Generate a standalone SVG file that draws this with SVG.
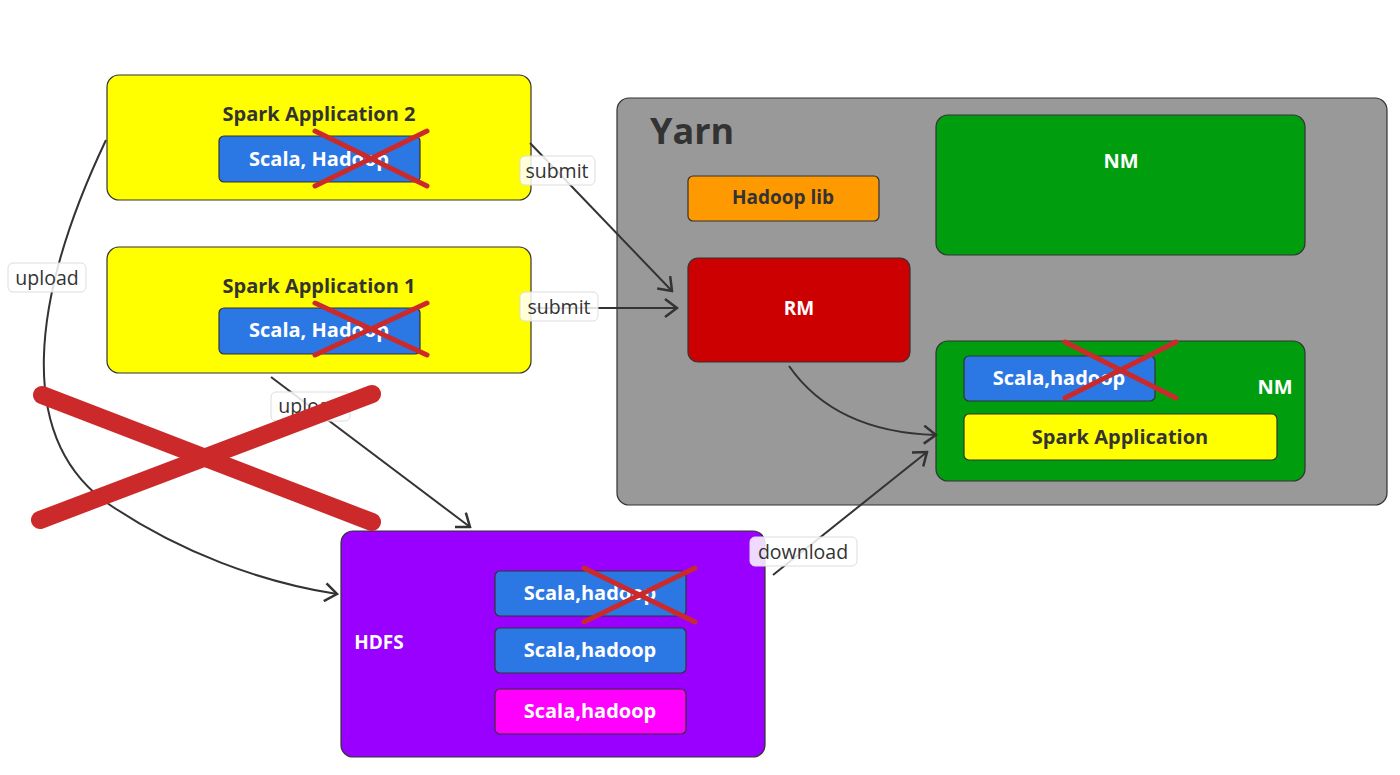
<svg xmlns="http://www.w3.org/2000/svg" width="1400" height="775" viewBox="0 0 1400 775">
<defs>
<marker id="arr" viewBox="-14 -10 16 20" markerWidth="16" markerHeight="20" refX="0" refY="0" orient="auto" markerUnits="userSpaceOnUse">
<path d="M-12,-9 L0,0 L-12,9" fill="none" stroke="#333" stroke-width="2.5"/>
</marker>
<style>
.box{stroke:#333;stroke-width:1.2}
.t{font-family:"Open Sans","Noto Sans","Liberation Sans",sans-serif;font-weight:bold;text-anchor:middle;dominant-baseline:central}
.dark{fill:#333}
.white{fill:#fff}
.x{stroke:#cc2a2a;stroke-width:5;stroke-linecap:round}
.conn{fill:none;stroke:#333;stroke-width:2}
.lblbox{fill:#fff;fill-opacity:0.85;stroke:#ddd;stroke-width:1}
.lbl{font-family:"Open Sans","Noto Sans","Liberation Sans",sans-serif;font-size:19.5px;fill:#333;text-anchor:middle;dominant-baseline:central}
</style>
</defs>
<rect width="1400" height="775" fill="#fff"/>

<g id="yarn">
<rect x="617" y="98" width="770" height="407" rx="12" fill="#999999" class="box"/>
<text x="650" y="130" class="t dark" style="font-size:36px;text-anchor:start">Yarn</text>
</g>

<g id="spark-app-2">
<rect x="107" y="75" width="424" height="125" rx="12" fill="#ffff00" class="box"/>
<text x="319" y="113" class="t dark" font-size="20">Spark Application 2</text>
<rect x="219" y="136" width="201" height="46" rx="5" fill="#2b78e4" class="box"/>
<text x="319" y="158" class="t white" font-size="20">Scala, Hadoop</text>
<line x1="315" y1="131" x2="427" y2="186" class="x"/>
<line x1="315" y1="186" x2="427" y2="131" class="x"/>
</g>

<g id="spark-app-1">
<rect x="107" y="247" width="424" height="126" rx="12" fill="#ffff00" class="box"/>
<text x="319" y="285" class="t dark" font-size="20">Spark Application 1</text>
<rect x="219" y="308" width="201" height="46" rx="5" fill="#2b78e4" class="box"/>
<text x="319" y="329" class="t white" font-size="20">Scala, Hadoop</text>
<line x1="315" y1="303" x2="427" y2="355" class="x"/>
<line x1="315" y1="355" x2="427" y2="303" class="x"/>
</g>

<g id="hadoop-lib">
<rect x="688" y="176" width="191" height="45" rx="5" fill="#ff9900" class="box"/>
<text x="783" y="197" class="t dark" font-size="19">Hadoop lib</text>
</g>

<g id="rm">
<rect x="688" y="258" width="222" height="104" rx="10" fill="#cc0000" class="box"/>
<text x="799" y="308" class="t white" font-size="19">RM</text>
</g>

<g id="nm-1">
<rect x="936" y="115" width="369" height="140" rx="12" fill="#009e0f" class="box"/>
<text x="1121" y="160" class="t white" font-size="20">NM</text>
</g>

<g id="nm-2">
<rect x="936" y="341" width="369" height="140" rx="12" fill="#009e0f" class="box"/>
<text x="1275" y="386" class="t white" font-size="20">NM</text>
<rect x="964" y="356" width="191" height="45" rx="5" fill="#2b78e4" class="box"/>
<text x="1059" y="377" class="t white" font-size="20">Scala,hadoop</text>
<rect x="964" y="414" width="313" height="46" rx="5" fill="#ffff00" class="box"/>
<text x="1120" y="436" class="t dark" font-size="20">Spark Application</text>
<line x1="1065" y1="342" x2="1176" y2="398" class="x"/>
<line x1="1065" y1="398" x2="1176" y2="342" class="x"/>
</g>

<g id="hdfs">
<rect x="341" y="531" width="424" height="226" rx="12" fill="#9900ff" class="box"/>
<text x="379" y="642" class="t white" font-size="19">HDFS</text>
<rect x="495" y="571" width="191" height="45" rx="5" fill="#2b78e4" class="box"/>
<text x="590" y="592" class="t white" font-size="20">Scala,hadoop</text>
<rect x="495" y="628" width="191" height="45" rx="5" fill="#2b78e4" class="box"/>
<text x="590" y="649" class="t white" font-size="20">Scala,hadoop</text>
<rect x="495" y="689" width="191" height="45" rx="5" fill="#ff00ff" class="box"/>
<text x="590" y="710" class="t white" font-size="20">Scala,hadoop</text>
<line x1="584" y1="568" x2="695" y2="622" class="x"/>
<line x1="584" y1="622" x2="695" y2="568" class="x"/>
</g>

<g id="connectors">
<path d="M530,143 L672,291" class="conn" marker-end="url(#arr)"/>
<path d="M531,308 L677,308" class="conn" marker-end="url(#arr)"/>
<path d="M106,140 C30,300 15,440 110,505 C180,552 260,582 337,594" class="conn" marker-end="url(#arr)"/>
<path d="M271,377 L470,527" class="conn" marker-end="url(#arr)"/>
<path d="M789,366 Q835,432 936,435" class="conn" marker-end="url(#arr)"/>
<path d="M773,575 L927,452" class="conn" marker-end="url(#arr)"/>

<rect x="520" y="156" width="75" height="29" rx="5" class="lblbox"/>
<text x="557" y="170" class="lbl">submit</text>
<rect x="520" y="292" width="78" height="29" rx="5" class="lblbox"/>
<text x="559" y="306" class="lbl">submit</text>
<rect x="8" y="263" width="78" height="29" rx="5" class="lblbox"/>
<text x="47" y="277" class="lbl">upload</text>
<rect x="271" y="392" width="79" height="29" rx="5" class="lblbox"/>
<text x="310" y="405" class="lbl">upload</text>
<rect x="750" y="537" width="107" height="29" rx="5" class="lblbox"/>
<text x="803" y="551" class="lbl">download</text>
</g>

<g id="big-cross">
<line x1="42" y1="395" x2="372" y2="522" stroke="#cc2a2a" stroke-width="18" stroke-linecap="round"/>
<line x1="40" y1="520" x2="372" y2="394" stroke="#cc2a2a" stroke-width="18" stroke-linecap="round"/>
</g>
</svg>
